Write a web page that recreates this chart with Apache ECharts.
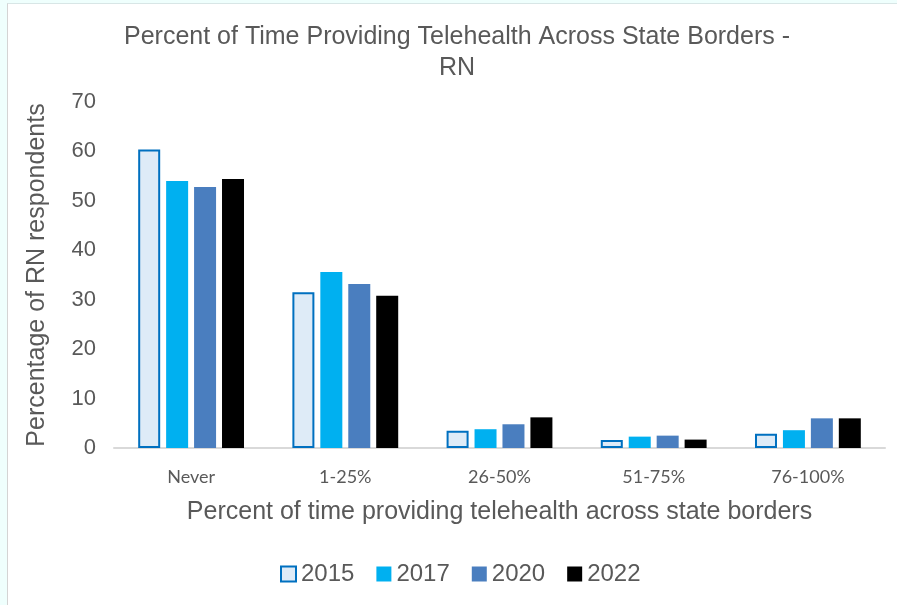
<!DOCTYPE html>
<html>
<head>
<meta charset="utf-8">
<script src="https://cdn.jsdelivr.net/npm/echarts@6/dist/echarts.min.js"></script>
<style>
  html, body { margin: 0; padding: 0; background: #effffd; width: 897px; height: 605px; overflow: hidden; }
  #main {
    position: absolute; left: 7px; top: 3px; width: 889px; height: 601px;
    background: #ffffff; border-left: 1px solid #d4d4d4; border-top: 1px solid #d8e6e6;
  }
</style>
</head>
<body>
<div id="main"></div>
<script>
// categories and series
const categories = ['Never', '1-25%', '26-50%', '51-75%', '76-100%'];
const years = ['2015', '2017', '2020', '2022'];
const v2015 = [60.4, 31.5, 3.5, 1.6, 2.9];
const v2017 = [54.0, 35.6, 3.8, 2.3, 3.6];
const v2020 = [52.8, 33.2, 4.8, 2.5, 6.0];
const v2022 = [54.4, 30.8, 6.2, 1.7, 6.0];

const seriesData = [v2015, v2017, v2020, v2022];
const fills = ['#deebf7', '#00b0f0', '#4a7ebf', '#000000'];

const txt = '#595959';
const font = '"Liberation Sans", Arial, sans-serif';

let chartDom = document.getElementById('main');
let myChart = echarts.init(chartDom);
let option;

option = {
  animation: false,
  title: {
    text: 'Percent of Time Providing Telehealth Across State Borders -\nRN',
    left: 444,
    top: 13,
    textAlign: 'center',
    textStyle: { fontFamily: font, fontSize: 25, fontWeight: 'normal', color: txt, lineHeight: 31 }
  },
  legend: {
    data: years,
    left: 267,
    top: 553,
    icon: 'rect',
    itemWidth: 15,
    itemHeight: 15,
    itemGap: 22,
    textStyle: { fontFamily: font, fontSize: 24, color: txt }
  },
  grid: {
    left: 106,
    right: 12,
    top: 98,
    bottom: 157
  },
  xAxis: {
    type: 'category',
    data: categories,
    name: 'Percent of time providing telehealth across state borders',
    nameLocation: 'middle',
    nameGap: 52,
    nameTextStyle: { fontFamily: font, fontSize: 25, color: txt },
    axisLine: { lineStyle: { color: '#d9d9d9', width: 2 } },
    axisTick: { show: false },
    axisLabel: { fontFamily: 'Lato, "Open Sans", sans-serif', fontSize: 18, color: txt, margin: 20 }
  },
  yAxis: {
    type: 'value',
    min: 0,
    max: 70,
    interval: 10,
    name: 'Percentage of RN respondents',
    nameLocation: 'middle',
    nameGap: 64,
    nameTextStyle: { fontFamily: font, fontSize: 25, color: txt },
    axisLine: { show: false },
    axisTick: { show: false },
    splitLine: { show: false },
    axisLabel: { fontFamily: font, fontSize: 22, color: txt, margin: 18 }
  },
  series: seriesData.map((d, i) => ({
    name: years[i],
    type: 'bar',
    data: d,
    barWidth: 22,
    barGap: '27%',
    itemStyle: i === 0
      ? { color: fills[i], borderColor: '#0070c0', borderWidth: 2 }
      : { color: fills[i] }
  }))
};

option && myChart.setOption(option);
</script>
</body>
</html>
